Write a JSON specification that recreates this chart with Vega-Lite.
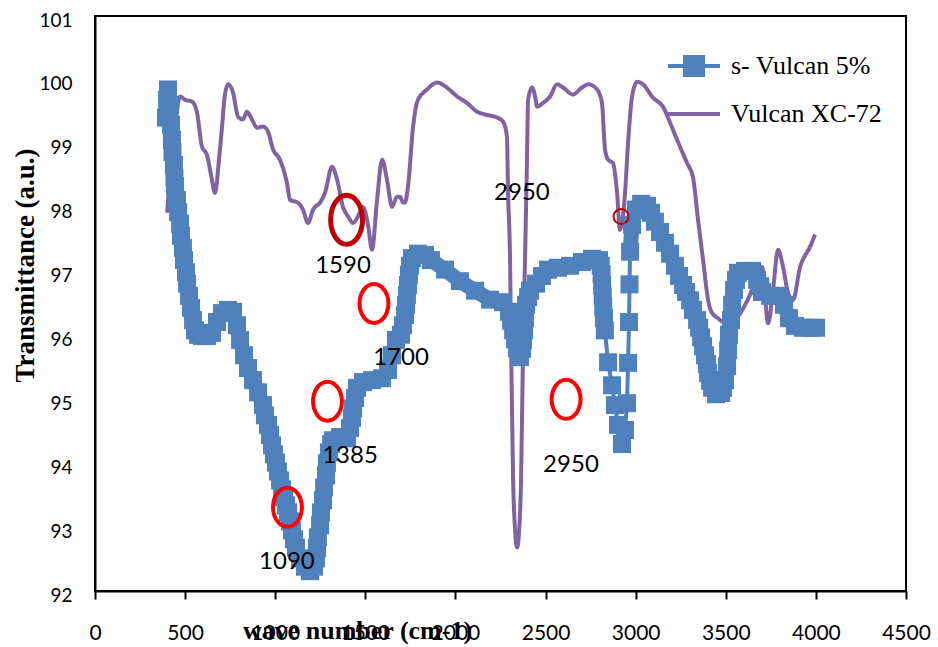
{
  "$schema": "https://vega.github.io/schema/vega-lite/v6.json",
  "width": 811,
  "height": 575,
  "autosize": "none",
  "padding": {"left": 95, "top": 16, "right": 32, "bottom": 56},
  "background": "white",
  "config": {"view": {"stroke": "#000", "strokeWidth": 2}, "axis": {"grid": false}},
  "datasets": {
    "spectra": [
      {"series": "s- Vulcan 5%", "x": 394, "y": 99.41}, {"series": "s- Vulcan 5%", "x": 400, "y": 99.69}, {"series": "s- Vulcan 5%", "x": 405, "y": 99.85}, {"series": "s- Vulcan 5%", "x": 416, "y": 99.61}, {"series": "s- Vulcan 5%", "x": 422, "y": 99.30}, {"series": "s- Vulcan 5%", "x": 427, "y": 99.06}, {"series": "s- Vulcan 5%", "x": 430, "y": 98.87}, {"series": "s- Vulcan 5%", "x": 438, "y": 98.67}, {"series": "s- Vulcan 5%", "x": 441, "y": 98.47}, {"series": "s- Vulcan 5%", "x": 444, "y": 98.34},
      {"series": "s- Vulcan 5%", "x": 455, "y": 98.12}, {"series": "s- Vulcan 5%", "x": 461, "y": 97.93}, {"series": "s- Vulcan 5%", "x": 472, "y": 97.75}, {"series": "s- Vulcan 5%", "x": 477, "y": 97.56}, {"series": "s- Vulcan 5%", "x": 488, "y": 97.37}, {"series": "s- Vulcan 5%", "x": 494, "y": 97.18}, {"series": "s- Vulcan 5%", "x": 505, "y": 96.99}, {"series": "s- Vulcan 5%", "x": 511, "y": 96.81}, {"series": "s- Vulcan 5%", "x": 522, "y": 96.62}, {"series": "s- Vulcan 5%", "x": 533, "y": 96.43}, {"series": "s- Vulcan 5%", "x": 544, "y": 96.24}, {"series": "s- Vulcan 5%", "x": 555, "y": 96.08}, {"series": "s- Vulcan 5%", "x": 572, "y": 96.01},
      {"series": "s- Vulcan 5%", "x": 594, "y": 95.99}, {"series": "s- Vulcan 5%", "x": 621, "y": 95.99}, {"series": "s- Vulcan 5%", "x": 649, "y": 96.04}, {"series": "s- Vulcan 5%", "x": 677, "y": 96.21}, {"series": "s- Vulcan 5%", "x": 705, "y": 96.35}, {"series": "s- Vulcan 5%", "x": 738, "y": 96.40}, {"series": "s- Vulcan 5%", "x": 766, "y": 96.37}, {"series": "s- Vulcan 5%", "x": 788, "y": 96.16},
      {"series": "s- Vulcan 5%", "x": 805, "y": 95.93}, {"series": "s- Vulcan 5%", "x": 827, "y": 95.69}, {"series": "s- Vulcan 5%", "x": 849, "y": 95.49}, {"series": "s- Vulcan 5%", "x": 877, "y": 95.30}, {"series": "s- Vulcan 5%", "x": 905, "y": 95.11}, {"series": "s- Vulcan 5%", "x": 932, "y": 94.91}, {"series": "s- Vulcan 5%", "x": 943, "y": 94.75}, {"series": "s- Vulcan 5%", "x": 960, "y": 94.60}, {"series": "s- Vulcan 5%", "x": 971, "y": 94.44}, {"series": "s- Vulcan 5%", "x": 982, "y": 94.28}, {"series": "s- Vulcan 5%", "x": 993, "y": 94.14}, {"series": "s- Vulcan 5%", "x": 1004, "y": 94.01}, {"series": "s- Vulcan 5%", "x": 1015, "y": 93.87}, {"series": "s- Vulcan 5%", "x": 1027, "y": 93.73}, {"series": "s- Vulcan 5%", "x": 1038, "y": 93.59}, {"series": "s- Vulcan 5%", "x": 1049, "y": 93.47}, {"series": "s- Vulcan 5%", "x": 1060, "y": 93.34}, {"series": "s- Vulcan 5%", "x": 1071, "y": 93.23}, {"series": "s- Vulcan 5%", "x": 1082, "y": 93.09}, {"series": "s- Vulcan 5%", "x": 1093, "y": 92.95}, {"series": "s- Vulcan 5%", "x": 1104, "y": 92.81}, {"series": "s- Vulcan 5%", "x": 1115, "y": 92.68}, {"series": "s- Vulcan 5%", "x": 1138, "y": 92.51}, {"series": "s- Vulcan 5%", "x": 1165, "y": 92.38}, {"series": "s- Vulcan 5%", "x": 1193, "y": 92.31},
      {"series": "s- Vulcan 5%", "x": 1215, "y": 92.38}, {"series": "s- Vulcan 5%", "x": 1226, "y": 92.51}, {"series": "s- Vulcan 5%", "x": 1232, "y": 92.67}, {"series": "s- Vulcan 5%", "x": 1237, "y": 92.84}, {"series": "s- Vulcan 5%", "x": 1249, "y": 93.03}, {"series": "s- Vulcan 5%", "x": 1254, "y": 93.23}, {"series": "s- Vulcan 5%", "x": 1265, "y": 93.42}, {"series": "s- Vulcan 5%", "x": 1271, "y": 93.62}, {"series": "s- Vulcan 5%", "x": 1282, "y": 93.81}, {"series": "s- Vulcan 5%", "x": 1287, "y": 94.00}, {"series": "s- Vulcan 5%", "x": 1298, "y": 94.17}, {"series": "s- Vulcan 5%", "x": 1310, "y": 94.30}, {"series": "s- Vulcan 5%", "x": 1321, "y": 94.36}, {"series": "s- Vulcan 5%", "x": 1360, "y": 94.41}, {"series": "s- Vulcan 5%", "x": 1398, "y": 94.39},
      {"series": "s- Vulcan 5%", "x": 1415, "y": 94.55}, {"series": "s- Vulcan 5%", "x": 1426, "y": 94.71}, {"series": "s- Vulcan 5%", "x": 1432, "y": 94.86}, {"series": "s- Vulcan 5%", "x": 1443, "y": 95.02}, {"series": "s- Vulcan 5%", "x": 1454, "y": 95.18}, {"series": "s- Vulcan 5%", "x": 1487, "y": 95.27}, {"series": "s- Vulcan 5%", "x": 1537, "y": 95.30}, {"series": "s- Vulcan 5%", "x": 1593, "y": 95.33}, {"series": "s- Vulcan 5%", "x": 1626, "y": 95.46}, {"series": "s- Vulcan 5%", "x": 1648, "y": 95.69}, {"series": "s- Vulcan 5%", "x": 1670, "y": 95.93},
      {"series": "s- Vulcan 5%", "x": 1698, "y": 96.01}, {"series": "s- Vulcan 5%", "x": 1709, "y": 96.16}, {"series": "s- Vulcan 5%", "x": 1720, "y": 96.32}, {"series": "s- Vulcan 5%", "x": 1726, "y": 96.48}, {"series": "s- Vulcan 5%", "x": 1731, "y": 96.63}, {"series": "s- Vulcan 5%", "x": 1737, "y": 96.79}, {"series": "s- Vulcan 5%", "x": 1742, "y": 96.95}, {"series": "s- Vulcan 5%", "x": 1748, "y": 97.09}, {"series": "s- Vulcan 5%", "x": 1759, "y": 97.21}, {"series": "s- Vulcan 5%", "x": 1792, "y": 97.28}, {"series": "s- Vulcan 5%", "x": 1831, "y": 97.26}, {"series": "s- Vulcan 5%", "x": 1864, "y": 97.18},
      {"series": "s- Vulcan 5%", "x": 1942, "y": 97.03}, {"series": "s- Vulcan 5%", "x": 2025, "y": 96.85}, {"series": "s- Vulcan 5%", "x": 2109, "y": 96.70}, {"series": "s- Vulcan 5%", "x": 2192, "y": 96.56}, {"series": "s- Vulcan 5%", "x": 2264, "y": 96.52},
      {"series": "s- Vulcan 5%", "x": 2297, "y": 96.37}, {"series": "s- Vulcan 5%", "x": 2309, "y": 96.23}, {"series": "s- Vulcan 5%", "x": 2320, "y": 96.08}, {"series": "s- Vulcan 5%", "x": 2331, "y": 95.94}, {"series": "s- Vulcan 5%", "x": 2342, "y": 95.80}, {"series": "s- Vulcan 5%", "x": 2358, "y": 95.66}, {"series": "s- Vulcan 5%", "x": 2370, "y": 95.79}, {"series": "s- Vulcan 5%", "x": 2375, "y": 95.93}, {"series": "s- Vulcan 5%", "x": 2381, "y": 96.08}, {"series": "s- Vulcan 5%", "x": 2386, "y": 96.27}, {"series": "s- Vulcan 5%", "x": 2392, "y": 96.48}, {"series": "s- Vulcan 5%", "x": 2403, "y": 96.60}, {"series": "s- Vulcan 5%", "x": 2414, "y": 96.70},
      {"series": "s- Vulcan 5%", "x": 2447, "y": 96.81}, {"series": "s- Vulcan 5%", "x": 2480, "y": 96.93}, {"series": "s- Vulcan 5%", "x": 2514, "y": 97.03}, {"series": "s- Vulcan 5%", "x": 2569, "y": 97.06}, {"series": "s- Vulcan 5%", "x": 2636, "y": 97.09}, {"series": "s- Vulcan 5%", "x": 2702, "y": 97.15}, {"series": "s- Vulcan 5%", "x": 2758, "y": 97.20}, {"series": "s- Vulcan 5%", "x": 2797, "y": 97.18},
      {"series": "s- Vulcan 5%", "x": 2806, "y": 97.09}, {"series": "s- Vulcan 5%", "x": 2811, "y": 96.96}, {"series": "s- Vulcan 5%", "x": 2814, "y": 96.79}, {"series": "s- Vulcan 5%", "x": 2817, "y": 96.62}, {"series": "s- Vulcan 5%", "x": 2820, "y": 96.45}, {"series": "s- Vulcan 5%", "x": 2824, "y": 96.27}, {"series": "s- Vulcan 5%", "x": 2829, "y": 96.08},
      {"series": "s- Vulcan 5%", "x": 2847, "y": 95.58}, {"series": "s- Vulcan 5%", "x": 2869, "y": 95.22}, {"series": "s- Vulcan 5%", "x": 2885, "y": 94.91}, {"series": "s- Vulcan 5%", "x": 2902, "y": 94.60}, {"series": "s- Vulcan 5%", "x": 2924, "y": 94.30}, {"series": "s- Vulcan 5%", "x": 2941, "y": 94.52}, {"series": "s- Vulcan 5%", "x": 2952, "y": 94.94}, {"series": "s- Vulcan 5%", "x": 2958, "y": 95.57}, {"series": "s- Vulcan 5%", "x": 2963, "y": 96.21}, {"series": "s- Vulcan 5%", "x": 2966, "y": 96.80}, {"series": "s- Vulcan 5%", "x": 2969, "y": 97.31}, {"series": "s- Vulcan 5%", "x": 2980, "y": 97.73}, {"series": "s- Vulcan 5%", "x": 3002, "y": 97.97},
      {"series": "s- Vulcan 5%", "x": 3030, "y": 98.06}, {"series": "s- Vulcan 5%", "x": 3063, "y": 98.03}, {"series": "s- Vulcan 5%", "x": 3085, "y": 97.92}, {"series": "s- Vulcan 5%", "x": 3107, "y": 97.78}, {"series": "s- Vulcan 5%", "x": 3135, "y": 97.62}, {"series": "s- Vulcan 5%", "x": 3163, "y": 97.45}, {"series": "s- Vulcan 5%", "x": 3191, "y": 97.28}, {"series": "s- Vulcan 5%", "x": 3218, "y": 97.09}, {"series": "s- Vulcan 5%", "x": 3241, "y": 96.93}, {"series": "s- Vulcan 5%", "x": 3263, "y": 96.79}, {"series": "s- Vulcan 5%", "x": 3280, "y": 96.68}, {"series": "s- Vulcan 5%", "x": 3302, "y": 96.55}, {"series": "s- Vulcan 5%", "x": 3318, "y": 96.40}, {"series": "s- Vulcan 5%", "x": 3341, "y": 96.24}, {"series": "s- Vulcan 5%", "x": 3352, "y": 96.12}, {"series": "s- Vulcan 5%", "x": 3363, "y": 95.97}, {"series": "s- Vulcan 5%", "x": 3374, "y": 95.83}, {"series": "s- Vulcan 5%", "x": 3385, "y": 95.69}, {"series": "s- Vulcan 5%", "x": 3396, "y": 95.55}, {"series": "s- Vulcan 5%", "x": 3402, "y": 95.41}, {"series": "s- Vulcan 5%", "x": 3413, "y": 95.29}, {"series": "s- Vulcan 5%", "x": 3424, "y": 95.18}, {"series": "s- Vulcan 5%", "x": 3446, "y": 95.08},
      {"series": "s- Vulcan 5%", "x": 3474, "y": 95.10}, {"series": "s- Vulcan 5%", "x": 3485, "y": 95.18}, {"series": "s- Vulcan 5%", "x": 3496, "y": 95.30}, {"series": "s- Vulcan 5%", "x": 3507, "y": 95.52}, {"series": "s- Vulcan 5%", "x": 3513, "y": 95.77}, {"series": "s- Vulcan 5%", "x": 3518, "y": 96.01}, {"series": "s- Vulcan 5%", "x": 3529, "y": 96.24}, {"series": "s- Vulcan 5%", "x": 3535, "y": 96.48}, {"series": "s- Vulcan 5%", "x": 3546, "y": 96.71}, {"series": "s- Vulcan 5%", "x": 3557, "y": 96.87}, {"series": "s- Vulcan 5%", "x": 3568, "y": 96.98}, {"series": "s- Vulcan 5%", "x": 3607, "y": 97.01}, {"series": "s- Vulcan 5%", "x": 3646, "y": 97.01}, {"series": "s- Vulcan 5%", "x": 3674, "y": 96.87}, {"series": "s- Vulcan 5%", "x": 3691, "y": 96.77}, {"series": "s- Vulcan 5%", "x": 3701, "y": 96.68}, {"series": "s- Vulcan 5%", "x": 3746, "y": 96.62}, {"series": "s- Vulcan 5%", "x": 3790, "y": 96.62}, {"series": "s- Vulcan 5%", "x": 3823, "y": 96.48}, {"series": "s- Vulcan 5%", "x": 3851, "y": 96.27}, {"series": "s- Vulcan 5%", "x": 3884, "y": 96.15}, {"series": "s- Vulcan 5%", "x": 3929, "y": 96.12}, {"series": "s- Vulcan 5%", "x": 3968, "y": 96.12}, {"series": "s- Vulcan 5%", "x": 4001, "y": 96.12},

      {"series": "Vulcan XC-72", "x": 400, "y": 97.92}, {"series": "Vulcan XC-72", "x": 444, "y": 99.27}, {"series": "Vulcan XC-72", "x": 472, "y": 99.74}, {"series": "Vulcan XC-72", "x": 499, "y": 99.69}, {"series": "Vulcan XC-72", "x": 538, "y": 99.66}, {"series": "Vulcan XC-72", "x": 566, "y": 99.49}, {"series": "Vulcan XC-72", "x": 594, "y": 98.95}, {"series": "Vulcan XC-72", "x": 621, "y": 98.83}, {"series": "Vulcan XC-72", "x": 644, "y": 98.51}, {"series": "Vulcan XC-72", "x": 666, "y": 98.23}, {"series": "Vulcan XC-72", "x": 688, "y": 98.75}, {"series": "Vulcan XC-72", "x": 705, "y": 99.27}, {"series": "Vulcan XC-72", "x": 721, "y": 99.77}, {"series": "Vulcan XC-72", "x": 738, "y": 99.93}, {"series": "Vulcan XC-72", "x": 766, "y": 99.80}, {"series": "Vulcan XC-72", "x": 794, "y": 99.42}, {"series": "Vulcan XC-72", "x": 821, "y": 99.38}, {"series": "Vulcan XC-72", "x": 843, "y": 99.50}, {"series": "Vulcan XC-72", "x": 871, "y": 99.38}, {"series": "Vulcan XC-72", "x": 899, "y": 99.25}, {"series": "Vulcan XC-72", "x": 932, "y": 99.27}, {"series": "Vulcan XC-72", "x": 960, "y": 99.19}, {"series": "Vulcan XC-72", "x": 988, "y": 98.91}, {"series": "Vulcan XC-72", "x": 1027, "y": 98.75}, {"series": "Vulcan XC-72", "x": 1065, "y": 98.39}, {"series": "Vulcan XC-72", "x": 1082, "y": 98.12}, {"series": "Vulcan XC-72", "x": 1126, "y": 98.08}, {"series": "Vulcan XC-72", "x": 1154, "y": 97.97}, {"series": "Vulcan XC-72", "x": 1182, "y": 97.76}, {"series": "Vulcan XC-72", "x": 1210, "y": 97.97}, {"series": "Vulcan XC-72", "x": 1249, "y": 98.08}, {"series": "Vulcan XC-72", "x": 1276, "y": 98.23}, {"series": "Vulcan XC-72", "x": 1315, "y": 98.64}, {"series": "Vulcan XC-72", "x": 1343, "y": 98.44}, {"series": "Vulcan XC-72", "x": 1376, "y": 98.01}, {"series": "Vulcan XC-72", "x": 1404, "y": 97.86}, {"series": "Vulcan XC-72", "x": 1432, "y": 97.76}, {"series": "Vulcan XC-72", "x": 1459, "y": 97.86}, {"series": "Vulcan XC-72", "x": 1487, "y": 98.01}, {"series": "Vulcan XC-72", "x": 1515, "y": 97.73}, {"series": "Vulcan XC-72", "x": 1537, "y": 97.34}, {"series": "Vulcan XC-72", "x": 1565, "y": 98.12}, {"series": "Vulcan XC-72", "x": 1593, "y": 98.75}, {"series": "Vulcan XC-72", "x": 1620, "y": 98.44}, {"series": "Vulcan XC-72", "x": 1648, "y": 98.01}, {"series": "Vulcan XC-72", "x": 1676, "y": 98.17}, {"series": "Vulcan XC-72", "x": 1692, "y": 98.17}, {"series": "Vulcan XC-72", "x": 1709, "y": 98.08}, {"series": "Vulcan XC-72", "x": 1720, "y": 98.08}, {"series": "Vulcan XC-72", "x": 1737, "y": 98.33}, {"series": "Vulcan XC-72", "x": 1765, "y": 99.27}, {"series": "Vulcan XC-72", "x": 1792, "y": 99.69}, {"series": "Vulcan XC-72", "x": 1842, "y": 99.85}, {"series": "Vulcan XC-72", "x": 1898, "y": 99.96}, {"series": "Vulcan XC-72", "x": 1953, "y": 99.88}, {"series": "Vulcan XC-72", "x": 2009, "y": 99.74}, {"series": "Vulcan XC-72", "x": 2064, "y": 99.64}, {"series": "Vulcan XC-72", "x": 2120, "y": 99.50}, {"series": "Vulcan XC-72", "x": 2175, "y": 99.45}, {"series": "Vulcan XC-72", "x": 2231, "y": 99.41}, {"series": "Vulcan XC-72", "x": 2264, "y": 99.35}, {"series": "Vulcan XC-72", "x": 2286, "y": 99.11}, {"series": "Vulcan XC-72", "x": 2292, "y": 98.23}, {"series": "Vulcan XC-72", "x": 2303, "y": 97.18}, {"series": "Vulcan XC-72", "x": 2309, "y": 95.77}, {"series": "Vulcan XC-72", "x": 2320, "y": 93.73}, {"series": "Vulcan XC-72", "x": 2331, "y": 92.95}, {"series": "Vulcan XC-72", "x": 2342, "y": 92.68}, {"series": "Vulcan XC-72", "x": 2353, "y": 92.92}, {"series": "Vulcan XC-72", "x": 2364, "y": 93.73}, {"series": "Vulcan XC-72", "x": 2375, "y": 95.77}, {"series": "Vulcan XC-72", "x": 2386, "y": 97.18}, {"series": "Vulcan XC-72", "x": 2397, "y": 98.75}, {"series": "Vulcan XC-72", "x": 2403, "y": 99.69}, {"series": "Vulcan XC-72", "x": 2425, "y": 99.88}, {"series": "Vulcan XC-72", "x": 2442, "y": 99.74}, {"series": "Vulcan XC-72", "x": 2453, "y": 99.58}, {"series": "Vulcan XC-72", "x": 2486, "y": 99.64}, {"series": "Vulcan XC-72", "x": 2525, "y": 99.74}, {"series": "Vulcan XC-72", "x": 2564, "y": 99.93}, {"series": "Vulcan XC-72", "x": 2597, "y": 99.88}, {"series": "Vulcan XC-72", "x": 2652, "y": 99.77}, {"series": "Vulcan XC-72", "x": 2702, "y": 99.88}, {"series": "Vulcan XC-72", "x": 2736, "y": 99.93}, {"series": "Vulcan XC-72", "x": 2786, "y": 99.85}, {"series": "Vulcan XC-72", "x": 2813, "y": 99.64}, {"series": "Vulcan XC-72", "x": 2830, "y": 98.91}, {"series": "Vulcan XC-72", "x": 2847, "y": 98.75}, {"series": "Vulcan XC-72", "x": 2874, "y": 98.70}, {"series": "Vulcan XC-72", "x": 2897, "y": 98.23}, {"series": "Vulcan XC-72", "x": 2913, "y": 97.65}, {"series": "Vulcan XC-72", "x": 2941, "y": 98.23}, {"series": "Vulcan XC-72", "x": 2958, "y": 99.02}, {"series": "Vulcan XC-72", "x": 2980, "y": 99.74}, {"series": "Vulcan XC-72", "x": 3008, "y": 99.97}, {"series": "Vulcan XC-72", "x": 3041, "y": 99.93}, {"series": "Vulcan XC-72", "x": 3096, "y": 99.72}, {"series": "Vulcan XC-72", "x": 3152, "y": 99.58}, {"series": "Vulcan XC-72", "x": 3191, "y": 99.33}, {"series": "Vulcan XC-72", "x": 3230, "y": 99.06}, {"series": "Vulcan XC-72", "x": 3285, "y": 98.70}, {"series": "Vulcan XC-72", "x": 3318, "y": 98.48}, {"series": "Vulcan XC-72", "x": 3346, "y": 97.81}, {"series": "Vulcan XC-72", "x": 3374, "y": 97.18}, {"series": "Vulcan XC-72", "x": 3402, "y": 96.55}, {"series": "Vulcan XC-72", "x": 3424, "y": 96.35}, {"series": "Vulcan XC-72", "x": 3457, "y": 96.27}, {"series": "Vulcan XC-72", "x": 3485, "y": 96.21}, {"series": "Vulcan XC-72", "x": 3550, "y": 96.25}, {"series": "Vulcan XC-72", "x": 3620, "y": 96.55}, {"series": "Vulcan XC-72", "x": 3680, "y": 96.95}, {"series": "Vulcan XC-72", "x": 3701, "y": 97.07}, {"series": "Vulcan XC-72", "x": 3735, "y": 96.19}, {"series": "Vulcan XC-72", "x": 3762, "y": 96.71}, {"series": "Vulcan XC-72", "x": 3790, "y": 97.34}, {"series": "Vulcan XC-72", "x": 3818, "y": 97.07}, {"series": "Vulcan XC-72", "x": 3846, "y": 96.66}, {"series": "Vulcan XC-72", "x": 3873, "y": 96.55}, {"series": "Vulcan XC-72", "x": 3912, "y": 97.07}, {"series": "Vulcan XC-72", "x": 3968, "y": 97.39}, {"series": "Vulcan XC-72", "x": 3995, "y": 97.58}
    ],
    "notes": [
      {"x": 1376, "y": 97.09, "text": "1590"},
      {"x": 1698, "y": 95.65, "text": "1700"},
      {"x": 1415, "y": 94.12, "text": "1385"},
      {"x": 1065, "y": 92.45, "text": "1090"},
      {"x": 2369, "y": 98.23, "text": "2950"},
      {"x": 2641, "y": 93.97, "text": "2950"}
    ],
    "rings": [
      {"x": 1068, "y": 93.31, "kind": "red"},
      {"x": 1290, "y": 94.97, "kind": "red"},
      {"x": 1548, "y": 96.50, "kind": "red"},
      {"x": 2614, "y": 95.00, "kind": "red"},
      {"x": 1396, "y": 97.81, "kind": "dark"},
      {"x": 2919, "y": 97.86, "kind": "small"}
    ]
  },
  "layer": [
    {
      "data": {"name": "spectra"},
      "transform": [{"filter": "datum.series === 'Vulcan XC-72'"}],
      "mark": {"type": "line", "strokeWidth": 4, "interpolate": "monotone"},
      "encoding": {
        "x": {"field": "x", "type": "quantitative",
          "scale": {"domain": [0, 4500], "nice": false, "zero": false},
          "axis": {"values": [0, 500, 1000, 1500, 2000, 2500, 3000, 3500, 4000, 4500], "format": "d", "title": "wave number (cm-1)",
            "domainColor": "#000", "domainWidth": 2, "tickColor": "#000", "tickWidth": 2, "tickSize": 8,
            "labelFont": "Lato", "labelFontSize": 21, "labelColor": "#000", "labelPadding": 34, "labelBaseline": "middle", "labelFlush": false, "labelOverlap": false,
            "titleFont": "Liberation Serif", "titleFontWeight": "bold", "titleFontSize": 26, "titleColor": "#000",
            "titleX": 262, "titleY": 39, "titleAlign": "center", "titleBaseline": "middle"}},
        "y": {"field": "y", "type": "quantitative",
          "scale": {"domain": [92, 101], "nice": false, "zero": false},
          "axis": {"values": [92, 93, 94, 95, 96, 97, 98, 99, 100, 101], "format": "d", "title": "Transmittance (a.u.)",
            "domainColor": "#000", "domainWidth": 2, "ticks": false, "tickSize": 0,
            "labelFont": "Lato", "labelFontSize": 19, "labelColor": "#000", "labelPadding": 23, "labelOffset": 4, "labelFlush": false,
            "titleFont": "Liberation Serif", "titleFontWeight": "bold", "titleFontSize": 27, "titleColor": "#000",
            "titleX": -70, "titleY": 249, "titleAngle": -90, "titleAlign": "center", "titleBaseline": "middle"}},
        "color": {"field": "series", "type": "nominal",
          "scale": {"domain": ["s- Vulcan 5%", "Vulcan XC-72"], "range": ["#4F81BD", "#8064A2"]},
          "legend": {"orient": "none", "legendX": 586, "legendY": 37, "title": null, "padding": 0,
            "symbolSize": 400, "symbolStrokeWidth": 4, "symbolType": "M-2.6,0L2.6,0",
            "labelFont": "Liberation Serif", "labelFontSize": 26, "labelColor": "#000", "labelOffset": 24, "labelLimit": 400, "rowPadding": 18,
            "encode": {"symbols": {"update": {
              "shape": {"signal": "datum.value === 's- Vulcan 5%' ? 'M-2.6,0L2.6,0M-0.9,-0.9L0.9,-0.9L0.9,0.9L-0.9,0.9Z' : 'M-2.6,0L2.6,0'"},
              "fill": {"signal": "datum.value === 's- Vulcan 5%' ? '#4F81BD' : 'transparent'"},
              "stroke": {"signal": "datum.value === 's- Vulcan 5%' ? '#4F81BD' : '#8064A2'"},
              "strokeWidth": {"value": 4},
              "opacity": {"value": 1}}}}}}
      }
    },
    {
      "data": {"name": "spectra"},
      "transform": [{"filter": "datum.series === 's- Vulcan 5%'"}],
      "mark": {"type": "line", "strokeWidth": 4},
      "encoding": {
        "x": {"field": "x", "type": "quantitative"},
        "y": {"field": "y", "type": "quantitative"},
        "color": {"field": "series", "type": "nominal"}
      }
    },
    {
      "data": {"name": "spectra"},
      "transform": [{"filter": "datum.series === 's- Vulcan 5%' && datum.x <= 2829"}],
      "mark": {"type": "line", "strokeWidth": 15, "strokeJoin": "round", "strokeCap": "square", "color": "#4F81BD"},
      "encoding": {
        "x": {"field": "x", "type": "quantitative"},
        "y": {"field": "y", "type": "quantitative"}
      }
    },
    {
      "data": {"name": "spectra"},
      "transform": [{"filter": "datum.series === 's- Vulcan 5%' && datum.x >= 2969"}],
      "mark": {"type": "line", "strokeWidth": 15, "strokeJoin": "round", "strokeCap": "square", "color": "#4F81BD"},
      "encoding": {
        "x": {"field": "x", "type": "quantitative"},
        "y": {"field": "y", "type": "quantitative"}
      }
    },
    {
      "data": {"name": "spectra"},
      "transform": [{"filter": "datum.series === 's- Vulcan 5%'"}],
      "mark": {"type": "point", "shape": "square", "filled": true, "size": 324, "color": "#4F81BD", "opacity": 1, "strokeWidth": 0},
      "encoding": {
        "x": {"field": "x", "type": "quantitative"},
        "y": {"field": "y", "type": "quantitative"}
      }
    },
    {
      "data": {"name": "rings"},
      "transform": [{"filter": "datum.kind === 'red'"}],
      "mark": {"type": "point", "filled": false, "shape": "M-0.74,0A0.74,1 0 1,1 0.74,0A0.74,1 0 1,1 -0.74,0Z", "size": 1521, "stroke": "#FF0000", "strokeWidth": 4, "opacity": 1},
      "encoding": {
        "x": {"field": "x", "type": "quantitative"},
        "y": {"field": "y", "type": "quantitative"}
      }
    },
    {
      "data": {"name": "rings"},
      "transform": [{"filter": "datum.kind === 'dark'"}],
      "mark": {"type": "point", "filled": false, "shape": "M-0.65,0A0.65,1 0 1,1 0.65,0A0.65,1 0 1,1 -0.65,0Z", "size": 2401, "stroke": "#C00000", "strokeWidth": 5, "opacity": 1},
      "encoding": {
        "x": {"field": "x", "type": "quantitative"},
        "y": {"field": "y", "type": "quantitative"}
      }
    },
    {
      "data": {"name": "rings"},
      "transform": [{"filter": "datum.kind === 'small'"}],
      "mark": {"type": "point", "filled": false, "shape": "circle", "size": 225, "stroke": "#C00000", "strokeWidth": 2, "opacity": 1},
      "encoding": {
        "x": {"field": "x", "type": "quantitative"},
        "y": {"field": "y", "type": "quantitative"}
      }
    },
    {
      "data": {"name": "notes"},
      "mark": {"type": "text", "font": "Lato", "fontSize": 24, "color": "#000", "align": "center", "baseline": "middle"},
      "encoding": {
        "x": {"field": "x", "type": "quantitative"},
        "y": {"field": "y", "type": "quantitative"},
        "text": {"field": "text"}
      }
    }
  ]
}
